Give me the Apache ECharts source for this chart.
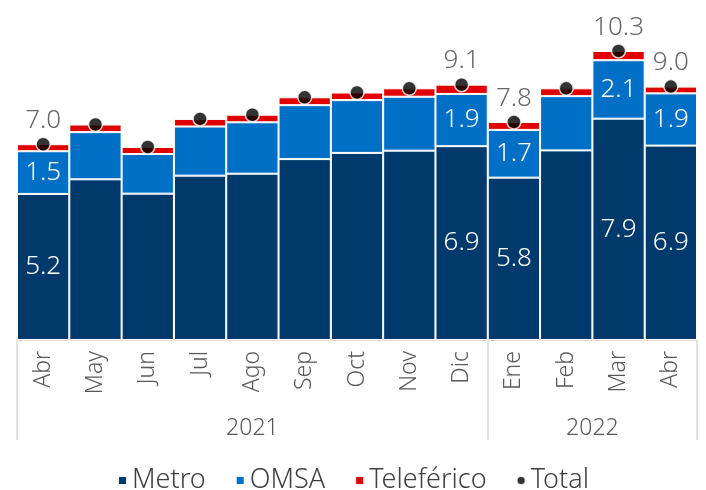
<!DOCTYPE html>
<html>
<head>
<meta charset="utf-8">
<script src="https://cdn.jsdelivr.net/npm/echarts@6/dist/echarts.min.js"></script>
<style>
  html, body { margin: 0; padding: 0; background: #fff; }
  #chart { width: 706px; height: 490px; }
</style>
</head>
<body>
<div id="chart"></div>
<script>
// meses y valores (millones de pasajeros)
const months = ['Abr', 'May', 'Jun', 'Jul', 'Ago', 'Sep', 'Oct', 'Nov', 'Dic', 'Ene', 'Feb', 'Mar', 'Abr']
const years = ['2021', '2022']
const metro = [5.2, 5.72, 5.21, 5.85, 5.92, 6.44, 6.66, 6.74, 6.9, 5.78, 6.75, 7.88, 6.92]
const omsa = [1.52, 1.68, 1.41, 1.75, 1.83, 1.92, 1.88, 1.92, 1.86, 1.7, 1.93, 2.08, 1.86]
const teleferico = [0.25, 0.27, 0.25, 0.27, 0.27, 0.28, 0.27, 0.3, 0.33, 0.28, 0.28, 0.33, 0.24]
const total = [6.97, 7.67, 6.87, 7.87, 8.02, 8.64, 8.81, 8.96, 9.09, 7.76, 8.96, 10.29, 9.02]
// solo algunos meses llevan etiqueta
const labeled = [0, 8, 9, 11, 12]

const font = 'Noto Sans'
const fmt = p => p.value.toFixed(1)

function withLabels(arr) {
  return arr.map((v, i) => ({ value: v, label: { show: labeled.indexOf(i) >= 0 } }))
}

const chart = echarts.init(document.getElementById('chart'))
chart.setOption({
  animation: false,
  textStyle: { fontFamily: font, fontWeight: 300 },
  grid: { left: 17, right: 9, top: 31, bottom: 150, containLabel: false },
  legend: {
    top: 462,
    left: 'center',
    itemWidth: 9,
    itemHeight: 9,
    itemGap: 29,
    textStyle: { fontSize: 27, color: '#404040', fontFamily: font, fontWeight: 300 },
    data: [
      { name: 'Metro', icon: 'rect' },
      { name: 'OMSA', icon: 'rect' },
      { name: 'Teleférico', icon: 'rect' },
      { name: 'Total', icon: 'circle' }
    ]
  },
  xAxis: [
    {
      type: 'category',
      data: months,
      axisLine: { lineStyle: { color: '#d9d9d9', width: 1 } },
      axisTick: { show: false },
      axisLabel: { rotate: 90, fontSize: 23, color: '#595959', fontWeight: 300, margin: 11, interval: 0 }
    },
    {
      type: 'value',
      min: 0,
      max: 13,
      position: 'bottom',
      axisLine: { show: false },
      splitLine: { show: false },
      axisTick: {
        show: true,
        customValues: [0, 9, 13],
        length: 100,
        lineStyle: { color: '#d9d9d9', width: 1.5 }
      },
      axisLabel: {
        customValues: [4.5, 11],
        fontSize: 23,
        color: '#595959',
        fontWeight: 300,
        margin: 77,
        formatter: v => (v === 4.5 ? years[0] : years[1])
      }
    }
  ],
  yAxis: { type: 'value', min: 0, max: 11, show: false },
  series: [
    {
      name: 'Metro',
      type: 'bar',
      stack: 'total',
      barWidth: '100%',
      data: withLabels(metro),
      itemStyle: { color: '#003A6C', borderColor: '#fff', borderWidth: 1 },
      label: { position: 'inside', color: '#fff', fontSize: 26, fontWeight: 300, formatter: fmt }
    },
    {
      name: 'OMSA',
      type: 'bar',
      stack: 'total',
      data: withLabels(omsa),
      itemStyle: { color: '#0070C6', borderColor: '#fff', borderWidth: 1 },
      label: { position: 'inside', color: '#fff', fontSize: 26, fontWeight: 300, formatter: fmt }
    },
    {
      name: 'Teleférico',
      type: 'bar',
      stack: 'total',
      data: teleferico,
      itemStyle: { color: '#E00000', borderColor: '#fff', borderWidth: 1 }
    },
    {
      name: 'Total',
      type: 'scatter',
      data: withLabels(total),
      symbolSize: 14,
      itemStyle: { color: '#000', borderColor: '#fff', borderWidth: 1.5 },
      label: { position: 'top', distance: 3, color: '#404040', fontSize: 26, fontWeight: 300, formatter: fmt },
      z: 5
    }
  ]
})
</script>
</body>
</html>
